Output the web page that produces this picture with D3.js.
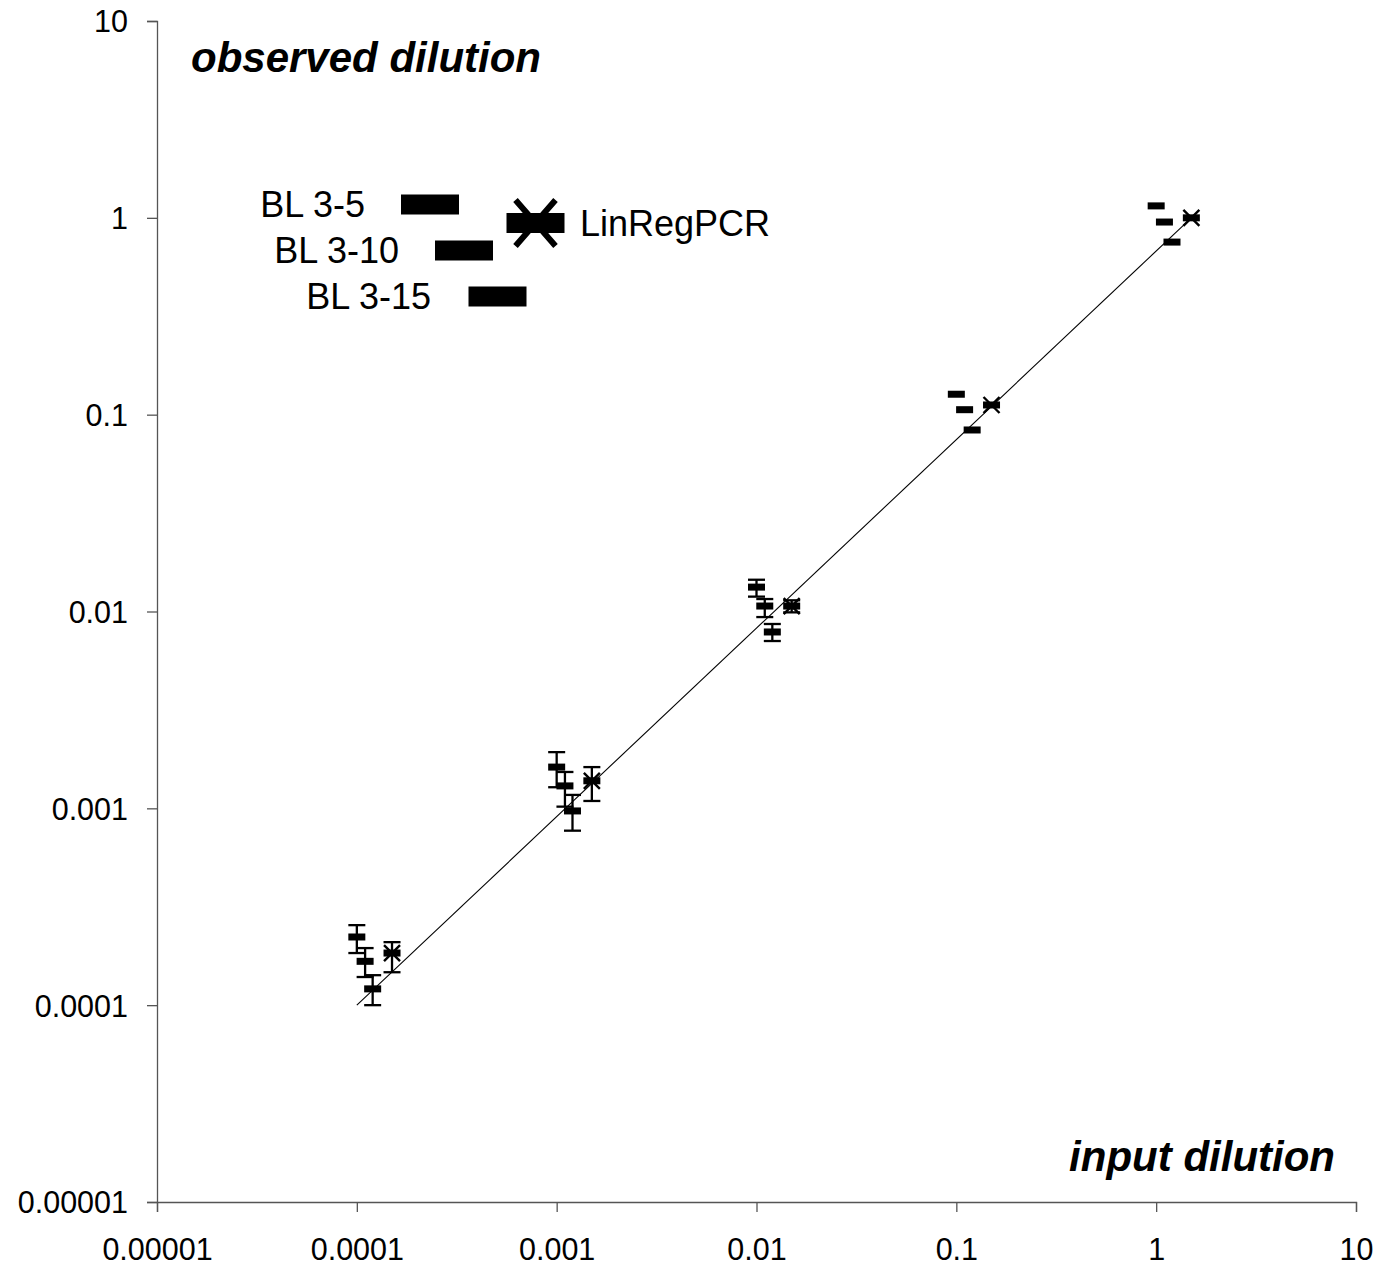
<!DOCTYPE html>
<html>
<head>
<meta charset="utf-8">
<script src="https://cdn.jsdelivr.net/npm/d3@7"></script>
<style>
  html, body { margin: 0; padding: 0; background: #fff; }
  svg { display: block; font-family: "Liberation Sans", Arial, sans-serif; }
</style>
</head>
<body>
<svg id="chart" width="1381" height="1271"></svg>
<script>
// Axis ticks (log scale, decades)
const tickValues = [1e-5, 1e-4, 1e-3, 1e-2, 1e-1, 1, 10];
const tickLabels = ["0.00001", "0.0001", "0.001", "0.01", "0.1", "1", "10"];

// Series: input dilution (x) vs observed dilution (y), with error range
const bl5X  = [0.0001, 0.001, 0.01, 0.1, 1];
const bl5Y  = [2.22e-4, 1.62e-3, 1.33e-2, 0.127, 1.15];
const bl5Lo = [1.84e-4, 1.28e-3, 1.19e-2, null, null];
const bl5Hi = [2.55e-4, 1.93e-3, 1.45e-2, null, null];

const bl10X  = [0.00011, 0.0011, 0.011, 0.11, 1.1];
const bl10Y  = [1.67e-4, 1.30e-3, 1.066e-2, 0.106, 0.952];
const bl10Lo = [1.39e-4, 1.02e-3, 0.937e-2, null, null];
const bl10Hi = [1.95e-4, 1.53e-3, 1.157e-2, null, null];

const bl15X  = [0.00012, 0.0012, 0.012, 0.12, 1.2];
const bl15Y  = [1.21e-4, 0.97e-3, 0.787e-2, 0.0836, 0.753];
const bl15Lo = [1.00e-4, 0.77e-3, 0.708e-2, null, null];
const bl15Hi = [1.42e-4, 1.17e-3, 0.864e-2, null, null];

const linX  = [0.00015, 0.0015, 0.015, 0.15, 1.5];
const linY  = [1.84e-4, 1.38e-3, 1.066e-2, 0.112, 1.0];
const linLo = [1.47e-4, 1.09e-3, 0.99e-2, null, null];
const linHi = [2.09e-4, 1.62e-3, 1.14e-2, null, null];

// Reference line
const refX = [0.0001, 1.5];
const refY = [0.0001, 1];

const seriesNames = ["BL 3-5", "BL 3-10", "BL 3-15", "LinRegPCR"];

const svg = d3.select("#chart");
const x = d3.scaleLog().domain([1e-5, 10]).range([157, 1356]);
const y = d3.scaleLog().domain([1e-5, 10]).range([1202, 21]);
const axisColor = "#555";

// Axes
const labelOf = v => tickLabels[tickValues.indexOf(v)];
const gx = svg.append("g").attr("transform", `translate(0,${y(1e-5)})`)
  .call(d3.axisBottom(x).tickValues(tickValues).tickFormat(labelOf).tickSize(10).tickPadding(28));
const gy = svg.append("g").attr("transform", `translate(${x(1e-5)},0)`)
  .call(d3.axisLeft(y).tickValues(tickValues).tickFormat(labelOf).tickSize(10).tickPadding(19));
[gx, gy].forEach(g => {
  g.select(".domain").attr("stroke", axisColor).attr("stroke-width", 1.3);
  g.selectAll(".tick line").attr("stroke", axisColor).attr("stroke-width", 1.3);
  g.selectAll(".tick text").attr("font-size", 30.5).attr("fill", "#000")
    .attr("font-family", "Liberation Sans, Arial, sans-serif");
});
gy.selectAll(".tick text").attr("dy", "0.36em");
gx.selectAll(".tick text").attr("dy", "0.66em");

// Axis titles
svg.append("text").attr("x", 191).attr("y", 72)
  .attr("font-size", 42).attr("font-weight", "bold").attr("font-style", "italic")
  .text("observed dilution");
svg.append("text").attr("x", 1335).attr("y", 1171).attr("text-anchor", "end")
  .attr("font-size", 42).attr("font-weight", "bold").attr("font-style", "italic")
  .text("input dilution");

// Reference line
svg.append("line")
  .attr("x1", x(refX[0])).attr("y1", y(refY[0]))
  .attr("x2", x(refX[1])).attr("y2", y(refY[1]))
  .attr("stroke", "#000").attr("stroke-width", 1.1);

const series = [
  { xs: bl5X,  ys: bl5Y,  lo: bl5Lo,  hi: bl5Hi,  star: false },
  { xs: bl10X, ys: bl10Y, lo: bl10Lo, hi: bl10Hi, star: false },
  { xs: bl15X, ys: bl15Y, lo: bl15Lo, hi: bl15Hi, star: false },
  { xs: linX,  ys: linY,  lo: linLo,  hi: linHi,  star: true }
];

// Error bars
const eg = svg.append("g").attr("stroke", "#000").attr("stroke-width", 2.3);
series.forEach(s => {
  s.xs.forEach((xv, i) => {
    if (s.lo[i] == null) return;
    const cx = x(xv), y1 = y(s.hi[i]), y2 = y(s.lo[i]);
    eg.append("line").attr("x1", cx).attr("x2", cx).attr("y1", y1).attr("y2", y2);
    eg.append("line").attr("x1", cx - 8.5).attr("x2", cx + 8.5).attr("y1", y1).attr("y2", y1);
    eg.append("line").attr("x1", cx - 8.5).attr("x2", cx + 8.5).attr("y1", y2).attr("y2", y2);
  });
});

// Markers: dash bars, plus an X for LinRegPCR
function drawMarker(g, cx, cy, w, h, star, xs, ys, sw) {
  g.append("rect").attr("x", cx - w / 2).attr("y", cy - h / 2)
    .attr("width", w).attr("height", h).attr("fill", "#000");
  if (star) {
    g.append("path")
      .attr("d", `M${cx - xs},${cy - ys}L${cx + xs},${cy + ys}M${cx - xs},${cy + ys}L${cx + xs},${cy - ys}`)
      .attr("stroke", "#000").attr("stroke-width", sw).attr("fill", "none");
  }
}
const mg = svg.append("g");
series.forEach(s => {
  s.xs.forEach((xv, i) => drawMarker(mg, x(xv), y(s.ys[i]), 17, 7, s.star, 8, 8, 2.4));
});

// Legend
const legendItems = [
  { name: seriesNames[0], rx: 430, ry: 204.5, star: false, anchor: "end", tx: 365 },
  { name: seriesNames[1], rx: 464, ry: 250.5, star: false, anchor: "end", tx: 399 },
  { name: seriesNames[2], rx: 497.5, ry: 296.5, star: false, anchor: "end", tx: 431 },
  { name: seriesNames[3], rx: 535.5, ry: 223, star: true, anchor: "start", tx: 580 }
];
const lg = svg.append("g");
legendItems.forEach(d => {
  drawMarker(lg, d.rx, d.ry, 58, 20, d.star, 20, 23, 6);
  lg.append("text").attr("x", d.tx).attr("y", d.ry + 12.5)
    .attr("text-anchor", d.anchor).attr("font-size", 36).text(d.name);
});
</script>
</body>
</html>
